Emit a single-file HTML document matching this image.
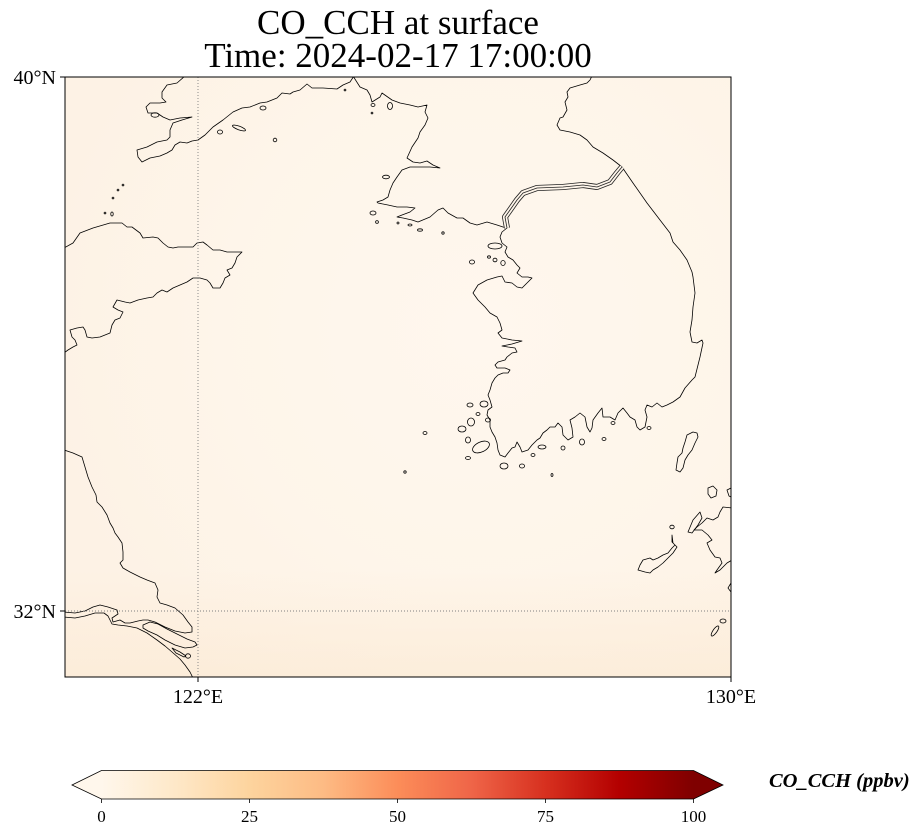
<!DOCTYPE html>
<html><head><meta charset="utf-8"><style>
html,body{margin:0;padding:0;background:#fff;}
svg{display:block;}
text{font-family:"Liberation Serif","DejaVu Serif",serif;fill:#000;}
</style></head><body>
<svg width="921" height="836" viewBox="0 0 921 836" xmlns="http://www.w3.org/2000/svg">
<defs>
<radialGradient id="rg" cx="480" cy="330" r="440" gradientUnits="userSpaceOnUse">
<stop offset="0" stop-color="#fff7ee" stop-opacity="1"/>
<stop offset="0.55" stop-color="#fef6eb" stop-opacity="0.85"/>
<stop offset="1" stop-color="#fef6eb" stop-opacity="0"/>
</radialGradient>
<linearGradient id="bg" x1="0" y1="570" x2="0" y2="677" gradientUnits="userSpaceOnUse">
<stop offset="0" stop-color="#fce8d0" stop-opacity="0"/>
<stop offset="1" stop-color="#fce8d0" stop-opacity="0.55"/>
</linearGradient>
<linearGradient id="cm" x1="101.5" y1="0" x2="693.5" y2="0" gradientUnits="userSpaceOnUse">
<stop offset="0" stop-color="#fff7ec"/>
<stop offset="0.125" stop-color="#fee8c8"/>
<stop offset="0.25" stop-color="#fdd49e"/>
<stop offset="0.375" stop-color="#fdbb84"/>
<stop offset="0.5" stop-color="#fc8d59"/>
<stop offset="0.625" stop-color="#ef6548"/>
<stop offset="0.75" stop-color="#d7301f"/>
<stop offset="0.875" stop-color="#b30000"/>
<stop offset="1" stop-color="#7f0000"/>
</linearGradient>
<clipPath id="ax"><rect x="65" y="77" width="666" height="600"/></clipPath>
</defs>

<!-- Title -->
<text x="398" y="34" font-size="35" text-anchor="middle">CO_CCH at surface</text>
<text x="398" y="67" font-size="35" text-anchor="middle">Time: 2024-02-17 17:00:00</text>

<!-- Map background -->
<rect x="65" y="77" width="666" height="600" fill="#fdf2e5"/>
<rect x="65" y="77" width="666" height="600" fill="url(#rg)"/>
<rect x="65" y="77" width="666" height="600" fill="url(#bg)"/>

<g clip-path="url(#ax)" fill="none" stroke="#000" stroke-width="0.8" stroke-linejoin="round" stroke-linecap="round">
<!-- Liaodong -->
<path d="M185,76 L177,83 L167,85 L162,92 L162,98 L166,102 L160,103 L150,103 L146,107 L148,113 L157,113 L163,117 L170,120 L180,118 L192,117 L182,120 L173,123 L170,130 L170,137 L167,140 L157,142 L147,147 L137,150 L138,157 L142,162 L150,158 L160,156 L167,153 L172,150 L175,145 L180,142 L187,143 L192,141 L198,140 L205,135 L208,132 L213,127 L223,120 L233,112 L242,108 L250,107 L260,103 L267,102 L277,98 L282,93 L290,94 L293,92 L300,90 L307,84 L312,88 L323,88 L337,89 L343,85 L350,82 L354,76"/>
<!-- Korea main coast -->
<path d="M353,76 L360,87 L367,90 L370,95 L372,102 L380,97 L382,93 L392,100 L400,103 L410,105 L418,107 L427,105 L425,112 L428,118 L425,125 L420,132 L418,138 L412,147 L407,158 L413,162 L420,163 L427,161 L433,165 L440,168 L430,167 L420,167 L410,167 L402,170 L397,177 L393,183 L390,190 L388,197 L383,200 L377,202 L378,203 L388,205 L397,207 L407,207 L415,208 L410,212 L402,215 L397,217 L403,218 L412,220 L418,222 L430,217 L438,210 L443,208 L448,213 L457,218 L463,218 L470,223 L477,225 L487,222 L497,225 L503,227 L507,228 L502,232 L500,237 L502,243 L507,247 L505,252 L508,257 L513,260 L517,265 L520,268 L517,273 L522,277 L528,277 L532,278 L527,283 L522,288 L517,287 L512,283 L505,282 L502,276 L497,277 L487,280 L478,285 L473,293 L478,300 L485,307 L490,313 L497,317 L500,323 L502,330 L498,333 L502,338 L512,340 L522,341 L512,344 L502,346 L508,347 L515,348 L517,352 L512,353 L507,357 L505,360 L498,362 L495,365 L497,368 L505,368 L510,370 L508,373 L503,373 L498,375 L495,378 L492,383 L490,390 L488,395 L490,400 L492,407 L488,410 L487,415 L490,420 L490,427 L492,432 L495,437 L497,443 L498,450 L500,455 L505,457 L508,453 L512,448 L515,447 L517,442 L520,447 L522,452 L528,450 L532,445 L537,440 L540,438 L543,433 L547,430 L550,427 L555,427 L558,423 L562,427 L563,435 L568,440 L573,437 L572,428 L570,420 L575,417 L580,413 L585,417 L587,427 L590,432 L592,428 L593,420 L598,413 L602,408 L603,417 L610,417 L615,420 L618,413 L623,408 L627,413 L630,417 L635,420 L637,427 L640,430 L645,427 L647,417 L645,410 L647,405 L652,407 L657,403 L662,407 L667,405 L673,402 L680,397 L685,388 L692,380 L695,377 L700,357 L703,343 L702,340 L697,343 L692,342 L690,332 L692,320 L693,307 L695,293 L693,277 L692,272 L687,260 L680,250 L673,242 L670,233 L660,220 L647,203 L633,183 L622,167 L613,160 L603,153 L593,147 L587,140 L580,135 L570,132 L560,130 L557,125 L560,118 L563,117 L567,110 L565,102 L568,97 L567,92 L570,88 L580,85 L587,83 L590,80 L592,76"/>
<!-- Shandong -->
<path d="M64,248 L73,243 L80,233 L93,228 L110,223 L122,223 L127,227 L132,227 L140,233 L143,238 L153,237 L158,238 L163,243 L168,247 L173,248 L178,247 L193,247 L197,243 L203,242 L207,245 L213,250 L220,250 L227,252 L233,252 L242,252 L237,257 L235,263 L232,268 L227,270 L230,275 L225,278 L223,283 L220,288 L213,288 L210,283 L207,280 L200,278 L193,278 L187,282 L180,285 L173,288 L167,292 L162,290 L157,293 L153,297 L147,298 L138,300 L130,303 L125,302 L117,300 L113,307 L118,310 L123,312 L120,318 L115,320 L112,325 L110,333 L100,337 L92,338 L87,337 L85,330 L83,327 L77,328 L70,330 L72,337 L75,340 L77,345 L73,347 L68,350 L64,353"/>
<!-- Jiangsu coast + Yangtze north bank -->
<path d="M64,450 L73,453 L82,457 L85,467 L88,477 L92,487 L96,495 L97,502 L102,507 L107,515 L110,523 L113,528 L115,533 L118,537 L122,543 L123,552 L123,560 L120,563 L123,568 L130,572 L140,577 L147,580 L155,583 L158,590 L157,597 L160,603 L167,605 L175,608 L183,615 L188,622 L192,627 L192,632 L185,633 L175,631 L165,627 L155,622 L148,620 L143,620 L138,621 L130,623 L125,623 L120,620 L113,622 L112,618 L118,614 L117,610 L108,607 L100,605 L93,607 L85,611 L75,613 L64,612"/>
<!-- Yangtze south bank -->
<path d="M64,617 L75,618 L85,616 L95,613 L104,613 L108,616 L112,624 L118,625 L127,626 L137,628 L147,633 L157,640 L165,646 L172,652 L180,659 L185,665 L190,672 L193,678"/>
<!-- Chongming island -->
<path d="M143,625 L150,622 L158,624 L167,629 L177,634 L187,639 L195,642 L197,645 L193,647 L185,648 L175,645 L165,640 L157,635 L148,631 L143,628 Z"/>
<path d="M172,648 L180,652 L186,656 L184,657 L176,653 Z"/>
<ellipse cx="188" cy="656" rx="2.5" ry="2.2"/>
<!-- Japan -->
<path d="M697,433 L693,432 L687,435 L685,442 L683,448 L682,453 L678,457 L677,463 L676,470 L680,472 L683,468 L685,460 L688,455 L692,450 L695,443 L698,437 Z"/>
<path d="M708,488 L713,486 L717,490 L716,496 L711,498 L708,494 Z"/>
<path d="M732,508 L723,507 L720,512 L718,517 L713,520 L707,518 L702,523 L697,527 L694,530 L702,530 L708,535 L712,540 L707,543 L710,550 L715,557 L720,558 L722,563 L717,570 L715,573 L720,570 L727,563 L732,560"/>
<path d="M700,512 L693,520 L688,532 L692,533 L698,525 L702,518 Z"/>
<path d="M672,535 L672,542 L675,545 L672,548 L668,553 L663,555 L658,558 L653,560 L650,558 L643,560 L640,565 L638,570 L645,572 L650,573 L653,570 L658,567 L663,563 L668,558 L673,553 L677,547 L673,543 Z"/>
<ellipse cx="672" cy="527" rx="2.2" ry="1.8"/>
<ellipse cx="715" cy="631" rx="2" ry="6" transform="rotate(35 715 631)"/>
<ellipse cx="723" cy="621" rx="3" ry="2"/>
<path d="M731,583 L728,588 L731,592"/>
<path d="M731,488 L727,490 L729,496 L731,497"/>
<!-- small islands -->
<ellipse cx="155" cy="115" rx="4" ry="2.2"/>
<ellipse cx="263" cy="108" rx="3" ry="2"/>
<ellipse cx="220" cy="132" rx="2.5" ry="2"/>
<ellipse cx="239" cy="128" rx="7" ry="1.8" transform="rotate(20 239 128)"/>
<ellipse cx="275" cy="140" rx="1.8" ry="1.8"/>
<circle cx="345" cy="90" r="0.9"/>
<circle cx="372" cy="113" r="0.9"/>
<circle cx="123" cy="185" r="0.9"/>
<circle cx="118" cy="190" r="0.9"/>
<circle cx="113" cy="198" r="0.9"/>
<circle cx="105" cy="213" r="0.9"/>
<ellipse cx="112" cy="214" rx="1.2" ry="2"/>
<ellipse cx="373" cy="105" rx="2" ry="1.5"/>
<ellipse cx="390" cy="106" rx="2.5" ry="3.5"/>
<ellipse cx="386" cy="177" rx="3.5" ry="1.8"/>
<ellipse cx="373" cy="213" rx="3" ry="2"/>
<circle cx="377" cy="222" r="1.4"/>
<circle cx="398" cy="223" r="1"/>
<ellipse cx="410" cy="225" rx="2" ry="1"/>
<ellipse cx="420" cy="230" rx="2.5" ry="1.2"/>
<circle cx="443" cy="233" r="1.2"/>
<ellipse cx="495" cy="246" rx="7" ry="3"/>
<ellipse cx="472" cy="262" rx="2.5" ry="2"/>
<ellipse cx="495" cy="260" rx="2" ry="1.8"/>
<ellipse cx="503" cy="263" rx="2.2" ry="2.5"/>
<ellipse cx="489" cy="257" rx="1.5" ry="1.2"/>
<ellipse cx="462" cy="429" rx="4" ry="3"/>
<ellipse cx="471" cy="422" rx="3.5" ry="4"/>
<ellipse cx="470" cy="405" rx="3" ry="2"/>
<ellipse cx="484" cy="404" rx="4" ry="3"/>
<ellipse cx="478" cy="414" rx="2" ry="1.5"/>
<ellipse cx="488" cy="420" rx="2.5" ry="2"/>
<ellipse cx="504" cy="466" rx="4" ry="3"/>
<ellipse cx="522" cy="466" rx="2.5" ry="2"/>
<ellipse cx="468" cy="458" rx="2.5" ry="1.5"/>
<circle cx="405" cy="472" r="1.2"/>
<ellipse cx="425" cy="433" rx="2" ry="1.5"/>
<ellipse cx="481" cy="447" rx="9" ry="5" transform="rotate(-25 481 447)"/>
<ellipse cx="468" cy="440" rx="2.5" ry="3"/>
<ellipse cx="542" cy="447" rx="4" ry="2"/>
<ellipse cx="563" cy="448" rx="2" ry="2"/>
<ellipse cx="582" cy="442" rx="2.5" ry="3"/>
<ellipse cx="533" cy="455" rx="2" ry="1.5"/>
<ellipse cx="613" cy="423" rx="2" ry="1.5"/>
<ellipse cx="552" cy="475" rx="1" ry="1.5"/>
<ellipse cx="604" cy="439" rx="2" ry="1.5"/>
<ellipse cx="649" cy="428" rx="2" ry="1.5"/>
</g>

<!-- DMZ triple line -->
<g fill="none" stroke-linejoin="round" stroke-linecap="butt">
<path d="M507,228 L505,217 L510,210 L517,200 L523,193 L537,188 L563,187 L583,185 L597,187 L610,182 L617,173 L622,167" stroke="#222" stroke-width="6"/>
<path d="M507,228 L505,217 L510,210 L517,200 L523,193 L537,188 L563,187 L583,185 L597,187 L610,182 L617,173 L622,167" stroke="#fef5ea" stroke-width="4.4"/>
<path d="M507,228 L505,217 L510,210 L517,200 L523,193 L537,188 L563,187 L583,185 L597,187 L610,182 L617,173 L622,167" stroke="#222" stroke-width="0.8"/>
</g>

<!-- Gridlines -->
<g stroke="#808080" stroke-width="0.9" stroke-dasharray="1 2" fill="none">
<line x1="198" y1="77" x2="198" y2="677"/>
<line x1="65" y1="611" x2="731" y2="611"/>
</g>

<!-- Axes frame -->
<rect x="65" y="77" width="666" height="600" fill="none" stroke="#000" stroke-width="1"/>
<g stroke="#000" stroke-width="1">
<line x1="60" y1="77" x2="65" y2="77"/>
<line x1="60" y1="611" x2="65" y2="611"/>
<line x1="198" y1="677" x2="198" y2="682"/>
<line x1="731" y1="677" x2="731" y2="682"/>
</g>
<text x="56" y="84" font-size="20" text-anchor="end">40°N</text>
<text x="56" y="618" font-size="20" text-anchor="end">32°N</text>
<text x="198" y="703" font-size="20" text-anchor="middle">122°E</text>
<text x="731" y="703" font-size="20" text-anchor="middle">130°E</text>

<!-- Colorbar -->
<polygon points="72,785 101.5,770.5 101.5,799" fill="#fff7ec"/>
<polygon points="693.5,770.5 723,785 693.5,799" fill="#7f0000"/>
<rect x="101.5" y="770.5" width="592" height="28.5" fill="url(#cm)"/>
<polygon points="72,785 101.5,770.5 693.5,770.5 723,785 693.5,799 101.5,799" fill="none" stroke="#000" stroke-width="0.8"/>
<g stroke="#000" stroke-width="0.8">
<line x1="101.5" y1="799" x2="101.5" y2="803"/>
<line x1="249.5" y1="799" x2="249.5" y2="803"/>
<line x1="397.5" y1="799" x2="397.5" y2="803"/>
<line x1="545.5" y1="799" x2="545.5" y2="803"/>
<line x1="693.5" y1="799" x2="693.5" y2="803"/>
</g>
<g font-size="17" text-anchor="middle">
<text x="101.5" y="822">0</text>
<text x="249.5" y="822">25</text>
<text x="397.5" y="822">50</text>
<text x="545.5" y="822">75</text>
<text x="693.5" y="822">100</text>
</g>
<text x="769" y="787" font-size="20.5" font-weight="bold" font-style="italic">CO_CCH (ppbv)</text>
</svg>
</body></html>
